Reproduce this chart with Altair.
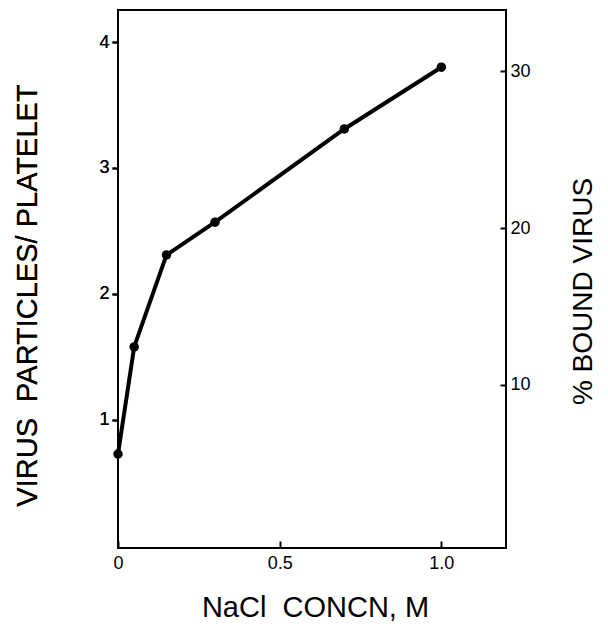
import altair as alt
import pandas as pd

# Data
nacl = [0.0, 0.05, 0.15, 0.30, 0.70, 1.0]
particles = [0.73, 1.58, 2.31, 2.57, 3.31, 3.80]
x_ticks = [0, 0.5, 1.0]
y_ticks = [1, 2, 3, 4]
pct_ticks = [10, 20, 30]

df = pd.DataFrame({"nacl": nacl, "particles": particles})
pct_df = pd.DataFrame({"pct": pct_ticks, "nacl": [0.0] * len(pct_ticks)})

FONT = "Liberation Sans"
NB = "\u00a0"

x_enc = alt.X(
    "nacl:Q",
    scale=alt.Scale(domain=[0, 1.2], nice=False, zero=False),
    axis=alt.Axis(
        values=x_ticks,
        labelExpr="datum.value == 0 ? '0' : format(datum.value, '.1f')",
        orient="bottom",
        offset=-7,
        tickSize=7,
        tickWidth=2,
        tickColor="black",
        domain=False,
        grid=False,
        labelPadding=6,
        labelFontSize=18,
        labelColor="black",
        labelFont=FONT,
        labelFlush=False,
        title="NaCl" + NB + " CONCN, M",
        titleFont=FONT,
        titleFontSize=29,
        titleFontWeight="normal",
        titleColor="black",
        titleX=197,
        titleY=75,
        titleBaseline="alphabetic",
        titleAlign="center",
    ),
)

y_left = alt.Y(
    "particles:Q",
    scale=alt.Scale(domain=[-0.016, 4.254], nice=False, zero=False),
    axis=alt.Axis(
        values=y_ticks,
        orient="left",
        tickSize=6,
        tickWidth=2,
        tickColor="black",
        domain=False,
        grid=False,
        labelPadding=3,
        labelFontSize=18,
        labelColor="black",
        labelFont=FONT,
        labelFlush=False,
        title="VIRUS" + NB + " PARTICLES/ PLATELET",
        titleFont=FONT,
        titleFontSize=29,
        titleFontWeight="normal",
        titleColor="black",
        titleAngle=270,
        titleX=-91,
        titleY=285,
        titleBaseline="middle",
        titleAlign="center",
    ),
)

line = alt.Chart(df).mark_line(color="black", strokeWidth=4).encode(x=x_enc, y=y_left)
pts = alt.Chart(df).mark_circle(color="black", size=90, opacity=1).encode(x=x_enc, y=y_left)

right = alt.Chart(pct_df).mark_point(opacity=0).encode(
    x=x_enc,
    y=alt.Y(
        "pct:Q",
        scale=alt.Scale(domain=[-0.4, 33.9], nice=False, zero=False),
        axis=alt.Axis(
            values=pct_ticks,
            orient="right",
            offset=-6,
            tickSize=6,
            tickWidth=2,
            tickColor="black",
            domain=False,
            grid=False,
            labelPadding=4,
            labelFontSize=18,
            labelColor="black",
            labelFont=FONT,
            labelFlush=False,
            title="% BOUND VIRUS",
            titleFont=FONT,
            titleFontSize=28,
            titleFontWeight="normal",
            titleColor="black",
            titleAngle=270,
            titleX=83,
            titleY=281,
            titleBaseline="middle",
            titleAlign="center",
        ),
    ),
)

chart = (
    alt.layer(line, pts, right)
    .resolve_scale(y="independent")
    .properties(
        width=388,
        height=538,
        autosize=alt.AutoSizeParams(type="none"),
        padding={"left": 110, "top": 2, "right": 94, "bottom": 74},
        background="white",
    )
    .configure(font=FONT)
    .configure_view(stroke="black", strokeWidth=2)
)

chart.save("out.html", embed_options={"renderer": "svg", "actions": False})
